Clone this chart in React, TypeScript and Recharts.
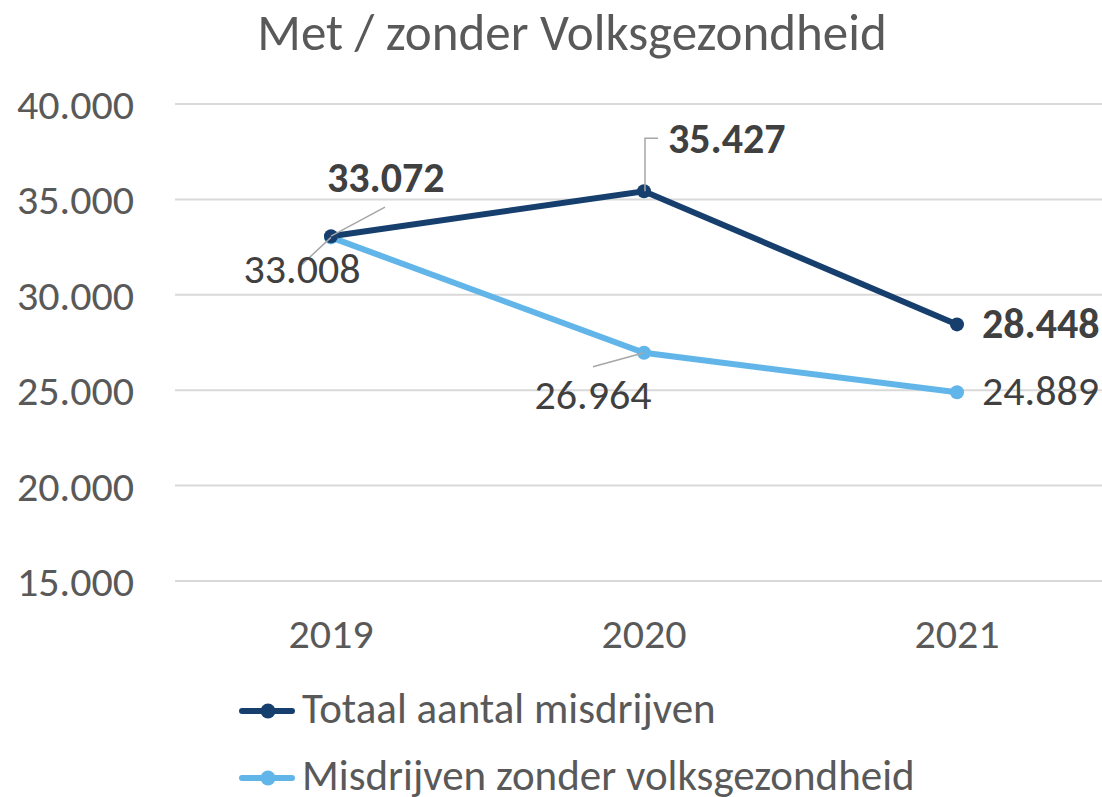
import React from "react";
import {
  LineChart,
  Line,
  XAxis,
  YAxis,
  CartesianGrid,
  Legend,
  LabelList,
} from "recharts";

const years = ["2019", "2020", "2021"];
const totaal = [33072, 35427, 28448];
const zonderVolksgezondheid = [33008, 26964, 24889];
const yTicks = [15000, 20000, 25000, 30000, 35000, 40000];

const seriesNames = ["Totaal aantal misdrijven", "Misdrijven zonder volksgezondheid"];
const seriesColors = ["#173F6E", "#62B5E8"];

const FONT = "Carlito, Calibri, Lato, sans-serif";
const TEXT = "#595959";
const LABEL = "#404040";
const NUM_SIZE = 42;

const data = years.map((year, i) => ({
  year,
  totaal: totaal[i],
  zonder: zonderVolksgezondheid[i],
}));

const fmt = (v: number) => String(v).replace(/\B(?=(\d{3})+(?!\d))/g, ".");

// label placement relative to the point: text offset, anchor, leader line points
type Place = { tx: number; ty: number; anchor: "start" | "middle" | "end"; leader?: number[][] };

const totaalPlaces: Place[] = [
  { tx: -4, ty: -44, anchor: "start", leader: [[54, -29], [0, 0]] },
  { tx: 24, ty: -38, anchor: "start", leader: [[14, -53], [1, -53], [1, 0]] },
  { tx: 25, ty: 14, anchor: "start" },
];
const zonderPlaces: Place[] = [
  { tx: -29, ty: 46, anchor: "middle", leader: [[-29, 27], [0, 0]] },
  { tx: -51, ty: 56, anchor: "middle", leader: [[-51, 14], [0, 0]] },
  { tx: 25, ty: 13, anchor: "start" },
];

const makeLabel = (places: Place[], bold: boolean) => (props: any) => {
  const { x, y, value, index } = props;
  const p = places[index];
  if (!p) return null;
  return (
    <g>
      {p.leader && (
        <polyline
          points={p.leader.map(([dx, dy]) => `${x + dx},${y + dy}`).join(" ")}
          fill="none"
          stroke="#A6A6A6"
          strokeWidth={1.5}
        />
      )}
      <text
        x={x + p.tx}
        y={y + p.ty}
        textAnchor={p.anchor}
        fill={LABEL}
        fontFamily={FONT}
        fontSize={NUM_SIZE}
        fontWeight={bold ? 700 : 400}
      >
        {fmt(value)}
      </text>
    </g>
  );
};

function LegendContent() {
  return (
    <svg width={800} height={106} style={{ display: "block" }}>
      {seriesNames.map((name, i) => {
        const cy = 20 + i * 67;
        return (
          <g key={name}>
            <line x1={17} x2={67} y1={cy} y2={cy} stroke={seriesColors[i]} strokeWidth={6} strokeLinecap="round" />
            <circle cx={43} cy={cy} r={7.5} fill={seriesColors[i]} />
            <text x={77} y={cy + 12} fill={TEXT} fontFamily={FONT} fontSize={43}>
              {name}
            </text>
          </g>
        );
      })}
    </svg>
  );
}

export default function App() {
  return (
    <div
      style={{
        position: "absolute",
        left: 0,
        top: 0,
        width: 1102,
        height: 797,
        overflow: "hidden",
        background: "#fff",
      }}
    >
      <div
        style={{
          position: "absolute",
          left: 0,
          width: 1144,
          top: 3,
          textAlign: "center",
          fontFamily: FONT,
          fontSize: 51,
          color: TEXT,
          lineHeight: "60px",
        }}
      >
        Met / zonder Volksgezondheid
      </div>
      <LineChart
        width={1130}
        height={797}
        data={data}
        margin={{ top: 104, right: 16, bottom: 136, left: 0 }}
      >
        <CartesianGrid horizontal vertical={false} stroke="#D9D9D9" strokeWidth={2} />
        <XAxis
          dataKey="year"
          axisLine={false}
          tickLine={false}
          tickSize={0}
          tickMargin={37}
          height={80}
          padding={{ left: 156, right: 157 }}
          tick={{ fill: TEXT, fontSize: NUM_SIZE, fontFamily: FONT }}
        />
        <YAxis
          domain={[15000, 40000]}
          ticks={yTicks}
          axisLine={false}
          tickLine={false}
          tickSize={0}
          tickMargin={41}
          width={175}
          tickFormatter={fmt}
          tick={{ fill: TEXT, fontSize: NUM_SIZE, fontFamily: FONT }}
        />
        <Legend
          layout="horizontal"
          verticalAlign="middle"
          align="center"
          wrapperStyle={{ position: "absolute", left: 225, top: 691, width: 800, height: 106 }}
          content={() => <LegendContent />}
        />
        <Line
          dataKey="zonder"
          name={seriesNames[1]}
          stroke={seriesColors[1]}
          strokeWidth={6}
          dot={{ r: 7, fill: seriesColors[1], stroke: "none" }}
          isAnimationActive={false}
        >
          <LabelList dataKey="zonder" content={makeLabel(zonderPlaces, false)} />
        </Line>
        <Line
          dataKey="totaal"
          name={seriesNames[0]}
          stroke={seriesColors[0]}
          strokeWidth={6}
          dot={{ r: 7, fill: seriesColors[0], stroke: "none" }}
          isAnimationActive={false}
        >
          <LabelList dataKey="totaal" content={makeLabel(totaalPlaces, true)} />
        </Line>
      </LineChart>
    </div>
  );
}
